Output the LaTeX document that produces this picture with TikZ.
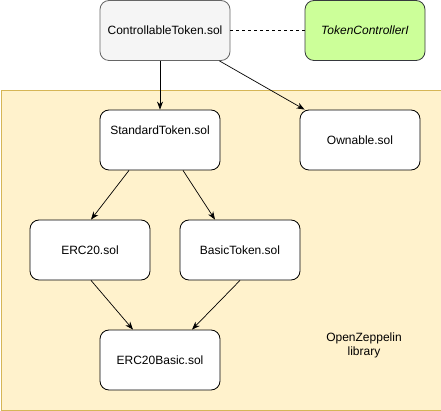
\documentclass[tikz,border=0pt]{standalone}
\usepackage{fontspec}
\setmainfont{Liberation Sans}
\usetikzlibrary{arrows.meta}
\definecolor{lib}{HTML}{FFF2CC}
\definecolor{libd}{HTML}{D6B656}
\definecolor{grayf}{HTML}{F5F5F5}
\definecolor{grayd}{HTML}{666666}
\definecolor{greenf}{HTML}{CCFF99}
\definecolor{greend}{HTML}{36393D}
\begin{document}
\begin{tikzpicture}[x=1pt,y=-1pt,
  box/.style={draw=black,fill=white,line width=0.8pt,rounded corners=9pt,minimum width=120pt,minimum height=60pt,inner sep=0pt,font=\fontsize{12}{14}\selectfont},
  txt/.style={inner sep=0pt,font=\fontsize{12}{14}\selectfont},
  arr/.style={-{Stealth[length=8pt,width=6pt,inset=2.5pt]},line width=0.7pt}]
\useasboundingbox (0,0) rectangle (441,411);
\node[draw=libd,fill=lib,line width=0.9pt,minimum width=440pt,minimum height=320pt,inner sep=0pt,anchor=north west] (lib) at (0.5,90) {};
\node[txt,align=center] (libtxt) at (364,345) {OpenZeppelin\\library};
\node[box,draw=grayd,fill=grayf,minimum width=130pt] (ct) at (165,30.5) {ControllableToken.sol};
\node[box,draw=greend,fill=greenf] (tci) at (365,30.5) {\itshape TokenControllerI};
\node[box] (st) at (160,140) {};
\node[txt] (sttxt) at ([yshift=-21pt]st.north) {StandardToken.sol};
\node[box] (ow) at (360,140) {Ownable.sol};
\node[box] (erc) at (90,250) {ERC20.sol};
\node[box] (bt) at (240,250) {BasicToken.sol};
\node[box] (eb) at (160,360) {ERC20Basic.sol};
\draw[dashed,line width=0.7pt,dash pattern=on 3pt off 3pt] (ct.east) -- (tci.west);
\draw[arr] (ct.south -| st.north) -- (st.north);
\draw[arr] ([xshift=-11pt]ct.south east) -- ([xshift=5pt]ow.north west);
\draw[arr] ([xshift=-31pt]st.south) -- ([xshift=1pt]erc.north);
\draw[arr] ([xshift=23pt]st.south) -- ([xshift=-25pt]bt.north);
\draw[arr] ([xshift=1pt]erc.south) -- ([xshift=-27pt]eb.north);
\draw[arr] (bt.south) -- ([xshift=32pt]eb.north);
\end{tikzpicture}
\end{document}
